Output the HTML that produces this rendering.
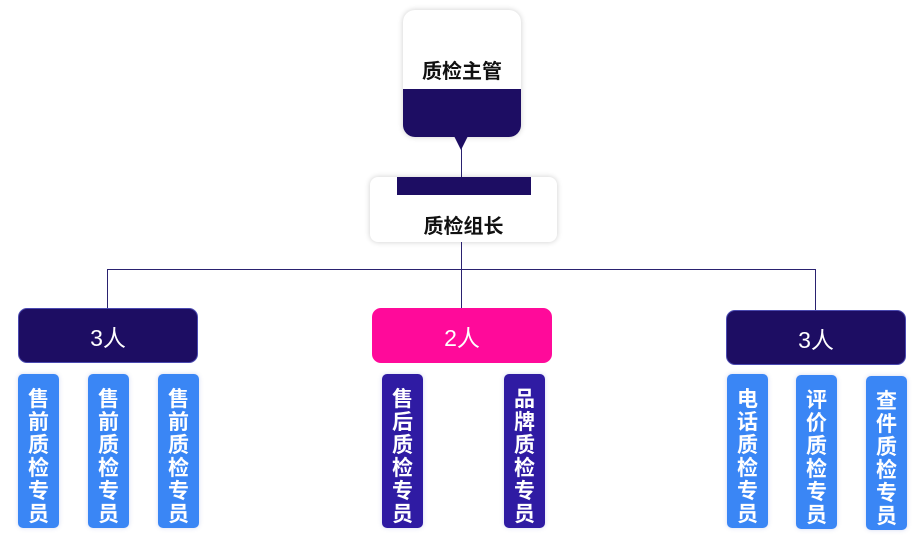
<!DOCTYPE html>
<html><head><meta charset="utf-8"><style>
body{margin:0;width:916px;height:540px;background:#fff;position:relative;overflow:hidden;font-family:"Liberation Sans","Noto Sans CJK SC",sans-serif}
.a{position:absolute;box-sizing:border-box}
.ln{position:absolute;background:#2a2270}
.grp{border-radius:9px;color:#fff;font-size:23px;display:flex;align-items:center;justify-content:center;border:1px solid #4a49b0}
.v{border-radius:5px;color:#fff;font-weight:bold;font-size:21px;line-height:23px;text-align:center;padding-top:14px;box-shadow:0 0 4px rgba(80,100,200,.25)}
.b{background:#3a86f5}.p{background:#2f1ba3}
</style></head><body>
<div class="a" style="left:403px;top:10px;width:118px;height:127px;border-radius:12px;background:#fff;box-shadow:0 0 6px rgba(0,0,0,.2);overflow:hidden">
 <div class="a" style="left:0;top:79px;width:118px;height:48px;background:#1d0d63"></div>
 <div class="a" style="left:0;top:45px;width:118px;text-align:center;font-weight:bold;font-size:20px;color:#111">质检主管</div>
</div>
<div class="a" style="left:454px;top:136px;width:0;height:0;border-left:7px solid transparent;border-right:7px solid transparent;border-top:14px solid #1d0d63"></div>
<div class="ln" style="left:461px;top:148px;width:1px;height:30px"></div>
<div class="a" style="left:370px;top:177px;width:187px;height:65px;border-radius:8px;background:#fff;box-shadow:0 0 6px rgba(0,0,0,.2)">
 <div class="a" style="left:27px;top:0;width:134px;height:18px;background:#1d0d63"></div>
 <div class="a" style="left:0;top:33px;width:187px;text-align:center;font-weight:bold;font-size:20px;color:#111">质检组长</div>
</div>
<div class="ln" style="left:461px;top:242px;width:1px;height:67px"></div>
<div class="ln" style="left:107px;top:269px;width:709px;height:1px"></div>
<div class="ln" style="left:107px;top:269px;width:1px;height:40px"></div>
<div class="ln" style="left:815px;top:269px;width:1px;height:41px"></div>
<div class="a grp" style="left:18px;top:308px;width:180px;height:55px;background:#1d0d63">3人</div>
<div class="a grp" style="left:372px;top:308px;width:180px;height:55px;background:#ff0a9a;border-color:#ff0a9a">2人</div>
<div class="a grp" style="left:726px;top:310px;width:180px;height:55px;background:#1d0d63">3人</div>
<div class="a v b" style="left:18px;top:374px;width:41px;height:154px">售<br>前<br>质<br>检<br>专<br>员</div>
<div class="a v b" style="left:88px;top:374px;width:41px;height:154px">售<br>前<br>质<br>检<br>专<br>员</div>
<div class="a v b" style="left:158px;top:374px;width:41px;height:154px">售<br>前<br>质<br>检<br>专<br>员</div>
<div class="a v p" style="left:382px;top:374px;width:41px;height:154px">售<br>后<br>质<br>检<br>专<br>员</div>
<div class="a v p" style="left:504px;top:374px;width:41px;height:154px">品<br>牌<br>质<br>检<br>专<br>员</div>
<div class="a v b" style="left:727px;top:374px;width:41px;height:154px">电<br>话<br>质<br>检<br>专<br>员</div>
<div class="a v b" style="left:796px;top:375px;width:41px;height:154px">评<br>价<br>质<br>检<br>专<br>员</div>
<div class="a v b" style="left:866px;top:376px;width:41px;height:154px">查<br>件<br>质<br>检<br>专<br>员</div>
</body></html>
